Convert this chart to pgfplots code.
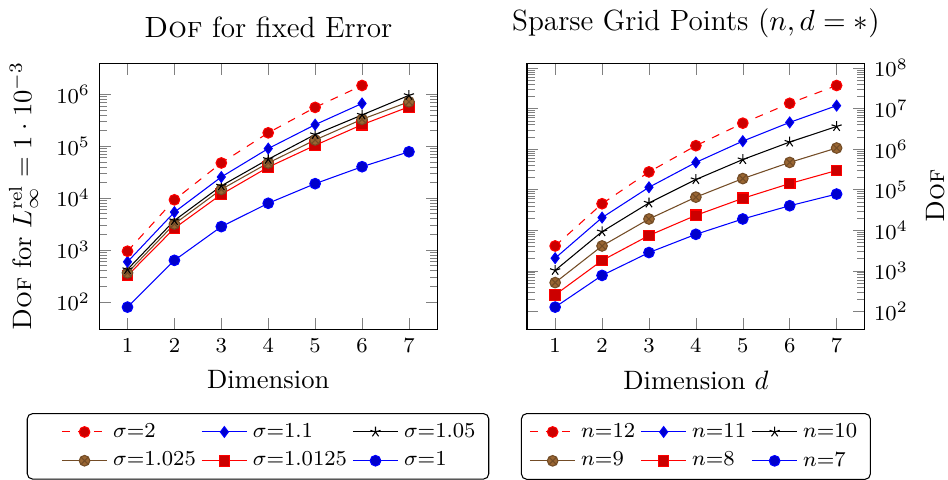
\documentclass[border=0pt]{standalone}
\usepackage{pgfplots}
\pgfplotsset{compat=1.18}
\tikzset{
  sA/.style={blue, mark=*, every mark/.append style={fill=blue!80!black}},
  sB/.style={red, mark=square*, every mark/.append style={fill=red!80!black}},
  sC/.style={brown!60!black, mark=otimes*, every mark/.append style={fill=brown!80!black}},
  sD/.style={black, mark=star},
  sE/.style={blue, mark=diamond*, every mark/.append style={fill=blue!80!black}},
  sF/.style={red, dashed, mark=*, every mark/.append style={solid, fill=red!80!black}},
}
% first legend column of the left axis starts further in
\pgfplotsset{padimg/.style={legend image code/.code={%
  \path (-9.8pt,0pt);
  \draw[mark repeat=2,mark phase=2] plot coordinates {(0cm,0cm)(0.3cm,0cm)(0.6cm,0cm)};}}}
\begin{document}
\begin{tikzpicture}
\begin{axis}[name=left,
  scale only axis, width=127pt, height=100pt,
  ymode=log, xtick={1,...,7}, ytickten={2,...,6},
  tick label style={font=\fontsize{8}{9.6}\selectfont},
  label style={font=\fontsize{10}{12}\selectfont},
  title style={font=\fontsize{11}{13.2}\selectfont},
  legend columns=3, legend cell align=left,
  legend style={font=\fontsize{8}{9.6}\selectfont, rounded corners=2pt,
    inner ysep=1.5pt, anchor=north west, at={(-0.215,-0.315)}},
  title={\textsc{Dof} for fixed Error},
  xlabel={Dimension},
  ylabel={\textsc{Dof} for $L_\infty^{\mathrm{rel}}=1\cdot10^{-3}$}]
\addlegendimage{sF, padimg}\addlegendentry{$\sigma$=2}
\addlegendimage{sE}\addlegendentry{$\sigma$=1.1}
\addlegendimage{sD}\addlegendentry{$\sigma$=1.05}
\addlegendimage{sC, padimg}\addlegendentry{$\sigma$=1.025}
\addlegendimage{sB}\addlegendentry{$\sigma$=1.0125}
\addlegendimage{sA}\addlegendentry{$\sigma$=1}
% sigma = 1
\addplot[sA, forget plot] coordinates {(1,79) (2,630) (3,2815) (4,7937) (5,18943) (6,40193) (7,78079)};
% sigma = 1.0125
\addplot[sB, forget plot] coordinates {(1,320) (2,2620) (3,11800) (4,39400) (5,104000) (6,260000) (7,575000)};
% sigma = 1.025
\addplot[sC, forget plot] coordinates {(1,362) (2,3170) (3,14700) (4,47500) (5,132000) (6,330000) (7,718000)};
% sigma = 1.05
\addplot[sD, forget plot] coordinates {(1,420) (2,3700) (3,17200) (4,56000) (5,168000) (6,400000) (7,955000)};
% sigma = 1.1
\addplot[sE, forget plot] coordinates {(1,590) (2,5350) (3,25500) (4,90000) (5,260000) (6,667000)};
% sigma = 2
\addplot[sF, forget plot] coordinates {(1,945) (2,9250) (3,47500) (4,181000) (5,560000) (6,1480000)};
\end{axis}

\begin{axis}[name=right,
  at={(left.south east)}, anchor=south west, xshift=33.8pt,
  scale only axis, width=127pt, height=100pt,
  ymode=log, xtick={1,...,7}, ytickten={2,...,8},
  tick label style={font=\fontsize{8}{9.6}\selectfont},
  label style={font=\fontsize{10}{12}\selectfont},
  title style={font=\fontsize{11}{13.2}\selectfont},
  legend columns=3, legend cell align=left,
  legend style={font=\fontsize{8}{9.6}\selectfont, rounded corners=2pt,
    inner ysep=1.5pt, anchor=north west, at={(-0.018,-0.315)}},
  title={Sparse Grid Points $(n,d=*)$},
  xlabel={Dimension $d$},
  ylabel={\textsc{Dof}},
  yticklabel pos=right, ylabel near ticks,
  ylabel style={inner ysep=1.3pt, yshift=-2pt}]
\addlegendimage{sF}\addlegendentry{$n$=12}
\addlegendimage{sE}\addlegendentry{$n$=11}
\addlegendimage{sD}\addlegendentry{$n$=10}
\addlegendimage{sC}\addlegendentry{$n$=9}
\addlegendimage{sB}\addlegendentry{$n$=8}
\addlegendimage{sA}\addlegendentry{$n$=7}
\addplot[sA, forget plot] coordinates {(1,127) (2,769) (3,2815) (4,7937) (5,18943) (6,40193) (7,78079)};
\addplot[sB, forget plot] coordinates {(1,255) (2,1793) (3,7423) (4,23297) (5,61183) (6,141569) (7,297727)};
\addplot[sC, forget plot] coordinates {(1,511) (2,4097) (3,18943) (4,65537) (5,187903) (6,471041) (7,1066495)};
\addplot[sD, forget plot] coordinates {(1,1023) (2,9217) (3,47103) (4,178177) (5,553983) (6,1496065) (7,3629055)};
\addplot[sE, forget plot] coordinates {(1,2047) (2,20481) (3,114687) (4,471041) (5,1579007) (6,4571137) (7,11829247)};
\addplot[sF, forget plot] coordinates {(1,4095) (2,45057) (3,274431) (4,1216513) (5,4374527) (6,13516801) (7,37175295)};
\end{axis}
\end{tikzpicture}
\end{document}
